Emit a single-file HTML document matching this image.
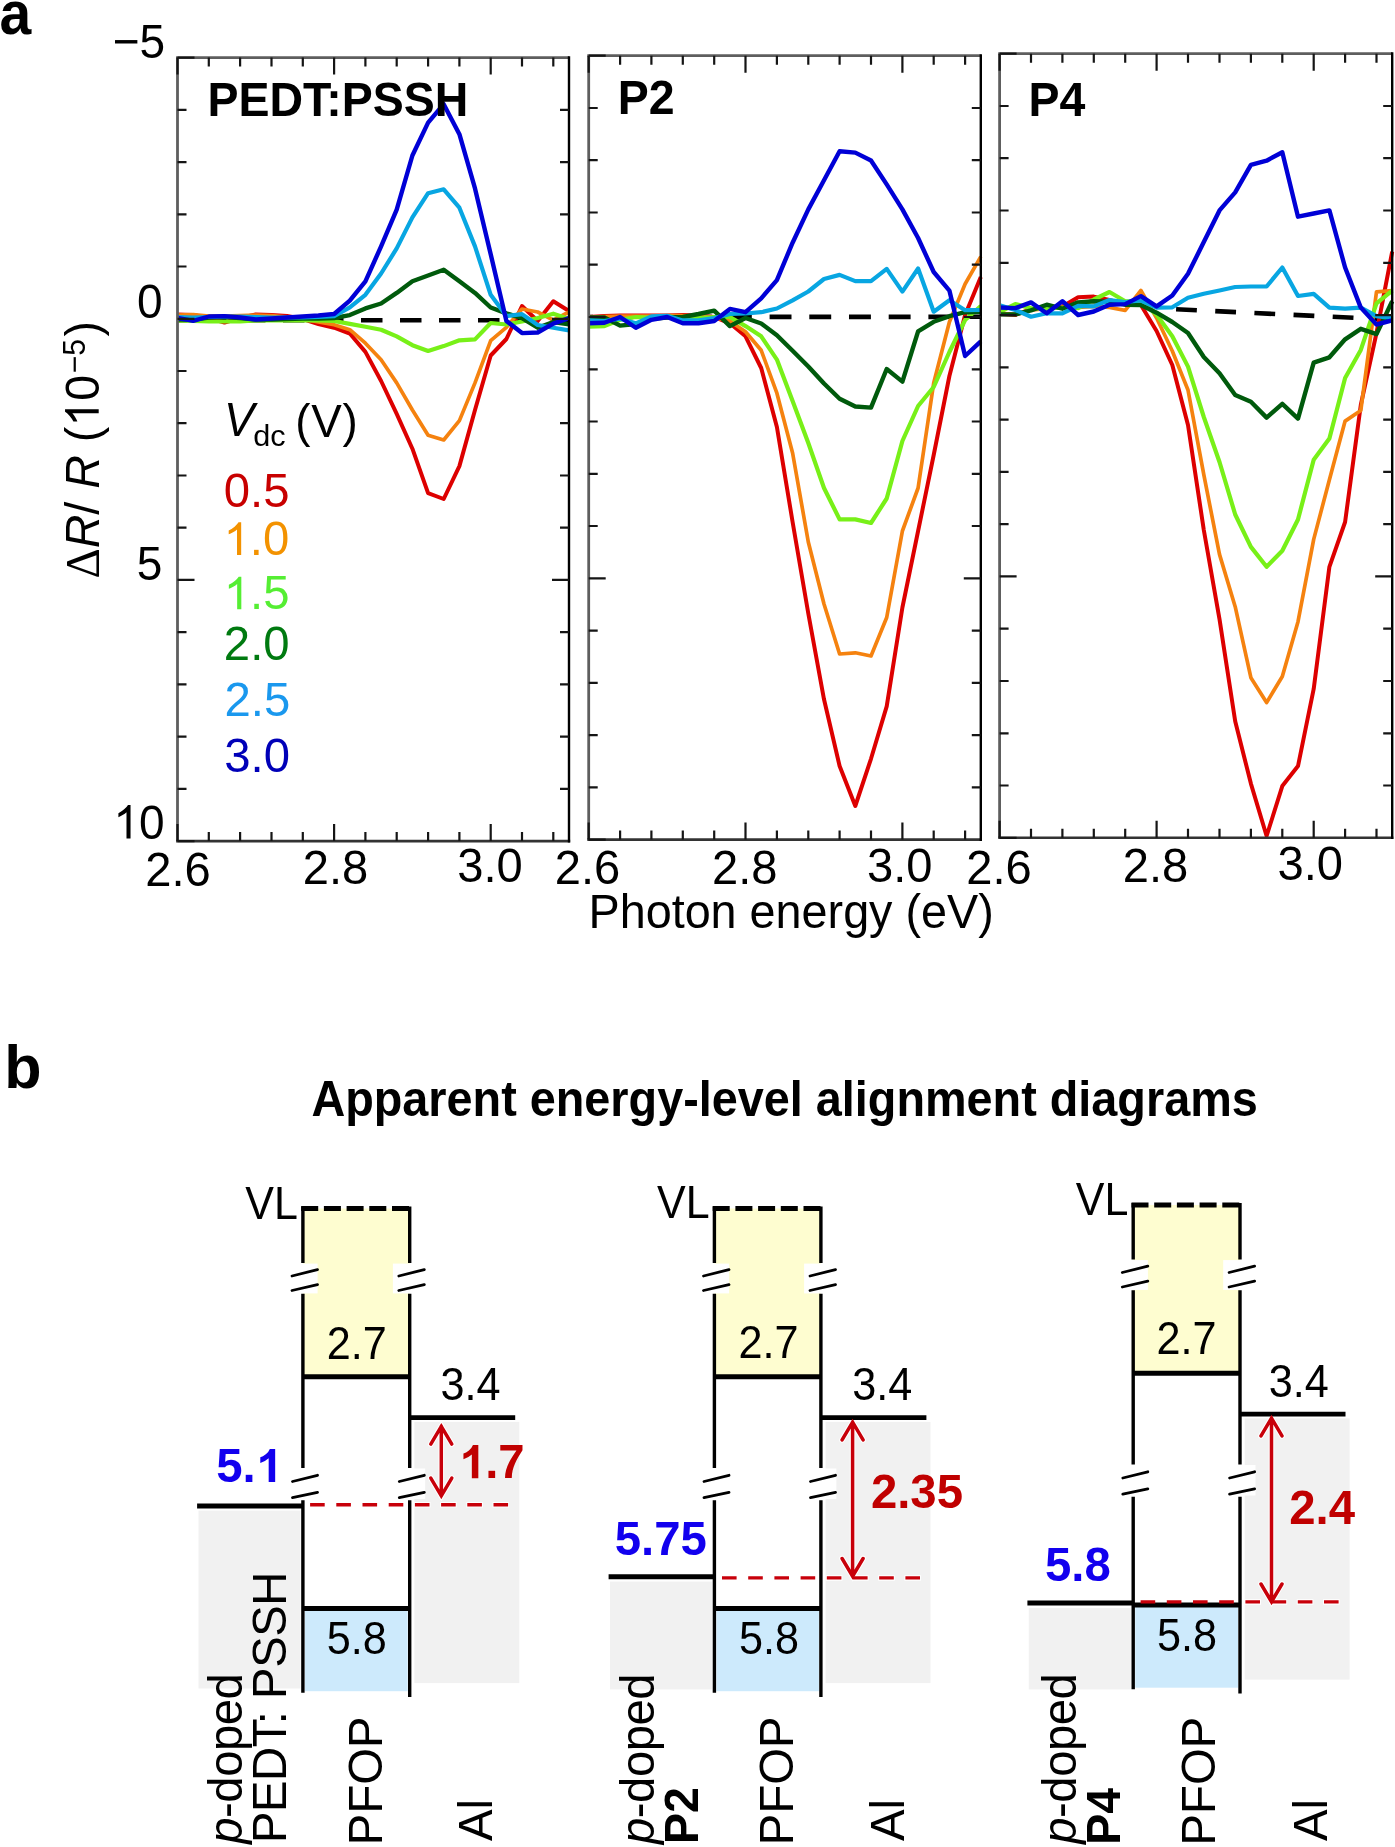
<!DOCTYPE html><html><head><meta charset="utf-8"><title>figure</title><style>html,body{margin:0;padding:0;background:#fff;}svg{display:block;will-change:transform;}text{font-family:"Liberation Sans", sans-serif;}</style></head><body>
<svg width="1395" height="1847" viewBox="0 0 1395 1847">
<rect width="1395" height="1847" fill="#fff"/>
<line x1="177.5" y1="320.2" x2="569.0" y2="320.2" stroke="#000" stroke-width="4.6" stroke-dasharray="21.5 17.5" stroke-dashoffset="11.50"/>
<polyline points="177.5,314.5 193.2,315.0 208.8,318.0 224.5,322.5 240.1,318.0 255.8,314.5 271.5,315.0 287.1,316.0 302.8,319.0 318.4,324.0 334.1,327.7 349.8,333.5 365.4,351.9 381.1,381.0 396.7,413.9 412.4,448.7 428.1,493.2 443.7,499.0 459.4,466.1 475.0,410.0 490.7,355.5 506.4,339.0 522.0,306.0 537.7,321.0 553.3,301.3 569.0,311.0" fill="none" stroke="#dd0000" stroke-width="4.0" stroke-linejoin="round" stroke-linecap="butt"/>
<polyline points="177.5,315.0 193.2,314.5 208.8,316.0 224.5,316.0 240.1,315.5 255.8,315.0 271.5,315.5 287.1,317.0 302.8,319.0 318.4,322.0 334.1,324.8 349.8,329.7 365.4,343.2 381.1,359.7 396.7,382.9 412.4,410.0 428.1,435.2 443.7,440.0 459.4,420.6 475.0,382.9 490.7,340.7 506.4,327.3 522.0,309.0 537.7,312.0 553.3,320.2 569.0,312.0" fill="none" stroke="#f5820f" stroke-width="3.7" stroke-linejoin="round" stroke-linecap="butt"/>
<polyline points="177.5,320.5 193.2,321.0 208.8,321.5 224.5,321.5 240.1,321.5 255.8,320.5 271.5,320.5 287.1,320.5 302.8,320.5 318.4,320.5 334.1,321.0 349.8,323.9 365.4,326.8 381.1,329.7 396.7,336.4 412.4,345.2 428.1,351.0 443.7,346.1 459.4,340.3 475.0,339.4 490.7,323.0 506.4,324.5 522.0,321.5 537.7,318.0 553.3,313.7 569.0,319.0" fill="none" stroke="#78f018" stroke-width="4.2" stroke-linejoin="round" stroke-linecap="butt"/>
<polyline points="177.5,319.5 193.2,319.5 208.8,317.5 224.5,317.0 240.1,318.0 255.8,319.5 271.5,319.5 287.1,319.0 302.8,318.5 318.4,318.5 334.1,318.0 349.8,315.1 365.4,308.4 381.1,303.5 396.7,292.9 412.4,281.3 428.1,275.5 443.7,269.7 459.4,281.3 475.0,292.9 490.7,307.5 506.4,313.4 522.0,318.1 537.7,327.7 553.3,322.0 569.0,324.3" fill="none" stroke="#005a0c" stroke-width="4.4" stroke-linejoin="round" stroke-linecap="butt"/>
<polyline points="177.5,317.0 193.2,317.5 208.8,317.0 224.5,316.5 240.1,316.5 255.8,317.0 271.5,317.5 287.1,317.5 302.8,317.5 318.4,317.0 334.1,316.1 349.8,307.4 365.4,294.8 381.1,273.5 396.7,248.4 412.4,217.4 428.1,193.2 443.7,189.3 459.4,207.7 475.0,246.4 490.7,294.8 506.4,316.1 522.0,314.1 537.7,325.0 553.3,327.7 569.0,330.4" fill="none" stroke="#08a6e2" stroke-width="4.2" stroke-linejoin="round" stroke-linecap="butt"/>
<polyline points="177.5,318.0 193.2,320.8 208.8,316.5 224.5,316.1 240.1,317.5 255.8,319.5 271.5,318.5 287.1,317.5 302.8,316.5 318.4,315.5 334.1,314.0 349.8,300.6 365.4,281.3 381.1,246.4 396.7,209.7 412.4,155.5 428.1,122.6 443.7,104.2 459.4,134.2 475.0,188.4 490.7,254.2 506.4,320.9 522.0,333.1 537.7,332.5 553.3,323.6 569.0,318.1" fill="none" stroke="#0000d6" stroke-width="4.4" stroke-linejoin="round" stroke-linecap="butt"/>
<path d="M176.1 57.6H569.0" stroke="#5e5e5e" stroke-width="2.8" fill="none"/>
<path d="M177.5 57.6V841.1" stroke="#5e5e5e" stroke-width="2.8" fill="none"/>
<path d="M176.1 841.1H570.2" stroke="#333" stroke-width="2.6" fill="none"/>
<path d="M569.0 56.2V842.4" stroke="#000" stroke-width="2.4" fill="none"/>
<path d="M208.8 57.6v9 M208.8 841.1v-9 M240.1 57.6v9 M240.1 841.1v-9 M271.5 57.6v9 M271.5 841.1v-9 M302.8 57.6v9 M302.8 841.1v-9 M334.1 57.6v17 M334.1 841.1v-17 M365.4 57.6v9 M365.4 841.1v-9 M396.7 57.6v9 M396.7 841.1v-9 M428.1 57.6v9 M428.1 841.1v-9 M459.4 57.6v9 M459.4 841.1v-9 M490.7 57.6v17 M490.7 841.1v-17 M522.0 57.6v9 M522.0 841.1v-9 M553.3 57.6v9 M553.3 841.1v-9 M177.5 57.6v17 M177.5 841.1v-17 M177.5 109.8h9 M569.0 109.8h-9 M177.5 162.1h9 M569.0 162.1h-9 M177.5 214.3h9 M569.0 214.3h-9 M177.5 266.5h9 M569.0 266.5h-9 M177.5 318.8h17 M569.0 318.8h-17 M177.5 371.0h9 M569.0 371.0h-9 M177.5 423.2h9 M569.0 423.2h-9 M177.5 475.5h9 M569.0 475.5h-9 M177.5 527.7h9 M569.0 527.7h-9 M177.5 579.9h17 M569.0 579.9h-17 M177.5 632.2h9 M569.0 632.2h-9 M177.5 684.4h9 M569.0 684.4h-9 M177.5 736.6h9 M569.0 736.6h-9 M177.5 788.9h9 M569.0 788.9h-9 M177.5 57.6h17 M177.5 841.1h17" stroke="#151515" stroke-width="2.2" fill="none"/>
<line x1="588.7" y1="317.0" x2="980.8" y2="316.8" stroke="#000" stroke-width="4.6" stroke-dasharray="21.9 17.8" stroke-dashoffset="17.60"/>
<polyline points="588.7,317.0 604.4,316.0 620.1,315.5 635.8,315.5 651.4,315.5 667.1,315.5 682.8,315.0 698.5,315.5 714.2,317.0 729.9,323.3 745.5,336.3 761.2,368.0 776.9,427.0 792.6,522.0 808.3,613.5 824.0,699.3 839.6,766.0 855.3,806.0 871.0,758.8 886.7,706.4 902.4,607.5 918.1,531.0 933.7,455.0 949.4,376.0 965.1,315.0 980.8,277.0" fill="none" stroke="#dd0000" stroke-width="4.0" stroke-linejoin="round" stroke-linecap="butt"/>
<polyline points="588.7,317.5 604.4,316.5 620.1,316.0 635.8,316.0 651.4,316.0 667.1,315.5 682.8,315.5 698.5,316.0 714.2,317.5 729.9,321.0 745.5,331.7 761.2,350.3 776.9,393.2 792.6,453.0 808.3,542.0 824.0,604.0 839.6,654.0 855.3,652.8 871.0,656.0 886.7,617.5 902.4,531.0 918.1,488.0 933.7,383.0 949.4,322.0 965.1,284.0 980.8,256.6" fill="none" stroke="#f5820f" stroke-width="3.7" stroke-linejoin="round" stroke-linecap="butt"/>
<polyline points="588.7,326.7 604.4,326.1 620.1,319.8 635.8,317.0 651.4,317.5 667.1,316.4 682.8,318.1 698.5,318.1 714.2,317.0 729.9,317.0 745.5,326.1 761.2,336.3 776.9,359.6 792.6,401.0 808.3,443.0 824.0,488.0 839.6,519.4 855.3,519.4 871.0,523.0 886.7,498.5 902.4,441.0 918.1,406.0 933.7,387.0 949.4,352.0 965.1,320.0 980.8,306.0" fill="none" stroke="#78f018" stroke-width="4.2" stroke-linejoin="round" stroke-linecap="butt"/>
<polyline points="588.7,317.5 604.4,317.5 620.1,325.6 635.8,324.0 651.4,318.7 667.1,317.5 682.8,317.0 698.5,314.0 714.2,310.6 729.9,326.1 745.5,318.0 761.2,323.5 776.9,335.3 792.6,350.8 808.3,366.5 824.0,383.5 839.6,398.8 855.3,406.5 871.0,407.6 886.7,369.0 902.4,381.6 918.1,331.3 933.7,321.8 949.4,316.2 965.1,312.2 980.8,311.7" fill="none" stroke="#005a0c" stroke-width="4.4" stroke-linejoin="round" stroke-linecap="butt"/>
<polyline points="588.7,320.4 604.4,321.0 620.1,318.7 635.8,323.3 651.4,316.4 667.1,315.8 682.8,320.4 698.5,320.4 714.2,318.1 729.9,314.0 745.5,313.5 761.2,312.2 776.9,308.5 792.6,300.4 808.3,291.5 824.0,279.0 839.6,274.9 855.3,281.1 871.0,281.1 886.7,268.9 902.4,291.6 918.1,268.5 933.7,311.7 949.4,300.2 965.1,310.2 980.8,310.0" fill="none" stroke="#08a6e2" stroke-width="4.2" stroke-linejoin="round" stroke-linecap="butt"/>
<polyline points="588.7,323.3 604.4,322.7 620.1,317.0 635.8,327.8 651.4,319.8 667.1,317.0 682.8,323.3 698.5,323.3 714.2,321.0 729.9,308.9 745.5,312.2 761.2,298.4 776.9,280.1 792.6,242.7 808.3,209.4 824.0,180.3 839.6,151.2 855.3,152.6 871.0,160.5 886.7,184.4 902.4,209.4 918.1,238.0 933.7,272.0 949.4,290.6 965.1,356.0 980.8,341.4" fill="none" stroke="#0000d6" stroke-width="4.4" stroke-linejoin="round" stroke-linecap="butt"/>
<path d="M587.3 55.7H980.8" stroke="#5e5e5e" stroke-width="2.8" fill="none"/>
<path d="M588.7 55.7V839.6" stroke="#5e5e5e" stroke-width="2.8" fill="none"/>
<path d="M587.3 839.6H982.0" stroke="#333" stroke-width="2.6" fill="none"/>
<path d="M980.8 54.3V840.9" stroke="#000" stroke-width="2.4" fill="none"/>
<path d="M620.1 55.7v9 M620.1 839.6v-9 M651.4 55.7v9 M651.4 839.6v-9 M682.8 55.7v9 M682.8 839.6v-9 M714.2 55.7v9 M714.2 839.6v-9 M745.5 55.7v17 M745.5 839.6v-17 M776.9 55.7v9 M776.9 839.6v-9 M808.3 55.7v9 M808.3 839.6v-9 M839.6 55.7v9 M839.6 839.6v-9 M871.0 55.7v9 M871.0 839.6v-9 M902.4 55.7v17 M902.4 839.6v-17 M933.7 55.7v9 M933.7 839.6v-9 M965.1 55.7v9 M965.1 839.6v-9 M588.7 55.7v17 M588.7 839.6v-17 M588.7 108.0h9 M980.8 108.0h-9 M588.7 160.2h9 M980.8 160.2h-9 M588.7 212.5h9 M980.8 212.5h-9 M588.7 264.7h9 M980.8 264.7h-9 M588.7 317.0h17 M980.8 317.0h-17 M588.7 369.3h9 M980.8 369.3h-9 M588.7 421.5h9 M980.8 421.5h-9 M588.7 473.8h9 M980.8 473.8h-9 M588.7 526.0h9 M980.8 526.0h-9 M588.7 578.3h17 M980.8 578.3h-17 M588.7 630.6h9 M980.8 630.6h-9 M588.7 682.8h9 M980.8 682.8h-9 M588.7 735.1h9 M980.8 735.1h-9 M588.7 787.3h9 M980.8 787.3h-9 M588.7 55.7h17 M588.7 839.6h17" stroke="#151515" stroke-width="2.2" fill="none"/>
<line x1="1160.0" y1="308.4" x2="1392.2" y2="319.7" stroke="#000" stroke-width="4.6" stroke-dasharray="20.8 18.4" stroke-dashoffset="23.10"/>
<polyline points="999.6,313.8 1015.3,315.0 1031.0,309.2 1046.7,308.7 1062.4,306.4 1078.1,297.2 1093.8,296.6 1109.5,300.0 1125.2,304.7 1140.9,305.0 1156.6,331.0 1172.3,365.0 1188.0,425.0 1203.8,530.0 1219.5,619.2 1235.2,721.3 1250.9,783.6 1266.6,836.0 1282.3,786.1 1298.0,766.1 1313.7,688.9 1329.4,566.8 1345.1,522.0 1360.8,404.9 1376.5,333.0 1392.2,251.6" fill="none" stroke="#dd0000" stroke-width="4.0" stroke-linejoin="round" stroke-linecap="butt"/>
<polyline points="999.6,313.3 1015.3,314.4 1031.0,309.8 1046.7,308.7 1062.4,307.5 1078.1,307.5 1093.8,306.4 1109.5,307.5 1125.2,310.4 1140.9,290.5 1156.6,318.0 1172.3,351.0 1188.0,390.0 1203.8,474.7 1219.5,554.4 1235.2,606.7 1250.9,677.7 1266.6,702.6 1282.3,676.5 1298.0,621.7 1313.7,539.4 1329.4,479.7 1345.1,421.1 1360.8,410.5 1376.5,291.8 1392.2,290.7" fill="none" stroke="#f5820f" stroke-width="3.7" stroke-linejoin="round" stroke-linecap="butt"/>
<polyline points="999.6,312.0 1015.3,304.1 1031.0,308.1 1046.7,308.7 1062.4,307.5 1078.1,308.1 1093.8,299.5 1109.5,292.0 1125.2,301.2 1140.9,301.3 1156.6,314.7 1172.3,336.3 1188.0,366.6 1203.8,417.0 1219.5,462.0 1235.2,514.5 1250.9,546.9 1266.6,566.8 1282.3,550.7 1298.0,519.5 1313.7,459.7 1329.4,438.5 1345.1,378.0 1360.8,349.9 1376.5,303.4 1392.2,290.7" fill="none" stroke="#78f018" stroke-width="4.2" stroke-linejoin="round" stroke-linecap="butt"/>
<polyline points="999.6,314.4 1015.3,314.4 1031.0,310.4 1046.7,304.7 1062.4,308.7 1078.1,302.4 1093.8,301.2 1109.5,301.8 1125.2,304.7 1140.9,305.0 1156.6,312.7 1172.3,322.0 1188.0,333.0 1203.8,357.0 1219.5,373.2 1235.2,395.0 1250.9,401.7 1266.6,417.6 1282.3,403.8 1298.0,418.6 1313.7,362.6 1329.4,357.3 1345.1,339.3 1360.8,328.8 1376.5,334.1 1392.2,301.3" fill="none" stroke="#005a0c" stroke-width="4.4" stroke-linejoin="round" stroke-linecap="butt"/>
<polyline points="999.6,305.2 1015.3,310.0 1031.0,316.7 1046.7,313.3 1062.4,313.3 1078.1,305.8 1093.8,306.4 1109.5,300.0 1125.2,302.0 1140.9,300.5 1156.6,307.6 1172.3,307.3 1188.0,297.7 1203.8,293.7 1219.5,290.5 1235.2,287.0 1250.9,286.5 1266.6,286.5 1282.3,267.5 1298.0,296.0 1313.7,293.9 1329.4,307.6 1345.1,308.7 1360.8,307.6 1376.5,316.1 1392.2,318.2" fill="none" stroke="#08a6e2" stroke-width="4.2" stroke-linejoin="round" stroke-linecap="butt"/>
<polyline points="999.6,307.5 1015.3,308.1 1031.0,302.4 1046.7,313.3 1062.4,301.2 1078.1,315.0 1093.8,311.5 1109.5,304.7 1125.2,304.1 1140.9,296.1 1156.6,306.4 1172.3,295.5 1188.0,273.8 1203.8,242.1 1219.5,210.4 1235.2,192.4 1250.9,164.9 1266.6,160.7 1282.3,152.2 1298.0,216.7 1313.7,213.5 1329.4,210.4 1345.1,267.5 1360.8,307.6 1376.5,324.5 1392.2,320.3" fill="none" stroke="#0000d6" stroke-width="4.4" stroke-linejoin="round" stroke-linecap="butt"/>
<path d="M998.2 53.7H1392.2" stroke="#5e5e5e" stroke-width="2.8" fill="none"/>
<path d="M999.6 53.7V837.8" stroke="#5e5e5e" stroke-width="2.8" fill="none"/>
<path d="M998.2 837.8H1393.4" stroke="#333" stroke-width="2.6" fill="none"/>
<path d="M1392.2 52.3V839.1" stroke="#000" stroke-width="2.4" fill="none"/>
<path d="M1031.0 53.7v9 M1031.0 837.8v-9 M1062.4 53.7v9 M1062.4 837.8v-9 M1093.8 53.7v9 M1093.8 837.8v-9 M1125.2 53.7v9 M1125.2 837.8v-9 M1156.6 53.7v17 M1156.6 837.8v-17 M1188.0 53.7v9 M1188.0 837.8v-9 M1219.5 53.7v9 M1219.5 837.8v-9 M1250.9 53.7v9 M1250.9 837.8v-9 M1282.3 53.7v9 M1282.3 837.8v-9 M1313.7 53.7v17 M1313.7 837.8v-17 M1345.1 53.7v9 M1345.1 837.8v-9 M1376.5 53.7v9 M1376.5 837.8v-9 M999.6 53.7v17 M999.6 837.8v-17 M999.6 106.0h9 M1392.2 106.0h-9 M999.6 158.2h9 M1392.2 158.2h-9 M999.6 210.5h9 M1392.2 210.5h-9 M999.6 262.8h9 M1392.2 262.8h-9 M999.6 315.1h17 M1392.2 315.1h-17 M999.6 367.3h9 M1392.2 367.3h-9 M999.6 419.6h9 M1392.2 419.6h-9 M999.6 471.9h9 M1392.2 471.9h-9 M999.6 524.2h9 M1392.2 524.2h-9 M999.6 576.4h17 M1392.2 576.4h-17 M999.6 628.7h9 M1392.2 628.7h-9 M999.6 681.0h9 M1392.2 681.0h-9 M999.6 733.3h9 M1392.2 733.3h-9 M999.6 785.5h9 M1392.2 785.5h-9 M999.6 53.7h17 M999.6 837.8h17" stroke="#151515" stroke-width="2.2" fill="none"/>
<text transform="translate(112.70,58.00) scale(1,1.06)" font-size="46.0" font-weight="normal" fill="#000">−5</text>
<text transform="translate(137.10,317.70) scale(1,1.06)" font-size="46.0" font-weight="normal" fill="#000">0</text>
<text transform="translate(136.80,579.80) scale(1,1.06)" font-size="46.0" font-weight="normal" fill="#000">5</text>
<text transform="translate(113.40,838.50) scale(1,1.06)" font-size="46.0" font-weight="normal" fill="#000"> 0</text><path transform="translate(113.40,838.50) scale(1,1.06) translate(0.000,0) scale(0.02246,-0.02246)" d="M 763 0 L 583 0 L 583 1102.4 Q 518 1042.8 410 982.3 Q 302 921.7 223 893.8 L 223 1060.1 Q 355 1119.7 478 1223.5 Q 601 1327.3 650 1409 L 763 1409Z" fill="#000"/>
<text transform="translate(145.35,885.60) scale(1,1.02)" font-size="47.1" font-weight="normal" fill="#000">2.6</text>
<text transform="translate(302.80,883.75) scale(1,1.02)" font-size="47.1" font-weight="normal" fill="#000">2.8</text>
<text transform="translate(457.30,881.95) scale(1,1.02)" font-size="47.1" font-weight="normal" fill="#000">3.0</text>
<text transform="translate(554.75,883.70) scale(1,1.02)" font-size="47.1" font-weight="normal" fill="#000">2.6</text>
<text transform="translate(711.95,883.75) scale(1,1.02)" font-size="47.1" font-weight="normal" fill="#000">2.8</text>
<text transform="translate(867.05,881.80) scale(1,1.02)" font-size="47.1" font-weight="normal" fill="#000">3.0</text>
<text transform="translate(966.35,883.70) scale(1,1.02)" font-size="47.1" font-weight="normal" fill="#000">2.6</text>
<text transform="translate(1122.80,881.95) scale(1,1.02)" font-size="47.1" font-weight="normal" fill="#000">2.8</text>
<text transform="translate(1277.45,879.80) scale(1,1.02)" font-size="47.1" font-weight="normal" fill="#000">3.0</text>
<text transform="translate(588.50,928.20) scale(1,1.03)" font-size="46.75" font-weight="normal" fill="#000">Photon energy (eV)</text>
<text transform="translate(207.50,115.60) scale(1,1.045)" font-size="46.5" font-weight="bold" fill="#000">PEDT:PSSH</text>
<text transform="translate(617.85,113.90) scale(1,1.045)" font-size="46.5" font-weight="bold" fill="#000">P2</text>
<text transform="translate(1028.55,115.65) scale(1,1.045)" font-size="46.5" font-weight="bold" fill="#000">P4</text>
<text transform="translate(223.75,506.50) scale(1,1.0)" font-size="47.3" font-weight="normal" fill="#c80000">0.5</text>
<text transform="translate(223.55,554.90) scale(1,1.0)" font-size="47.3" font-weight="normal" fill="#f39200"> .0</text><path transform="translate(223.55,554.90) scale(1,1.0) translate(0.000,0) scale(0.02310,-0.02310)" d="M 763 0 L 583 0 L 583 1102.4 Q 518 1042.8 410 982.3 Q 302 921.7 223 893.8 L 223 1060.1 Q 355 1119.7 478 1223.5 Q 601 1327.3 650 1409 L 763 1409Z" fill="#f39200"/>
<text transform="translate(223.70,609.35) scale(1,1.0)" font-size="47.3" font-weight="normal" fill="#55ee33"> .5</text><path transform="translate(223.70,609.35) scale(1,1.0) translate(0.000,0) scale(0.02310,-0.02310)" d="M 763 0 L 583 0 L 583 1102.4 Q 518 1042.8 410 982.3 Q 302 921.7 223 893.8 L 223 1060.1 Q 355 1119.7 478 1223.5 Q 601 1327.3 650 1409 L 763 1409Z" fill="#55ee33"/>
<text transform="translate(223.85,659.75) scale(1,1.0)" font-size="47.3" font-weight="normal" fill="#007a10">2.0</text>
<text transform="translate(224.50,715.65) scale(1,1.0)" font-size="47.3" font-weight="normal" fill="#1a98ee">2.5</text>
<text transform="translate(224.20,771.55) scale(1,1.0)" font-size="47.3" font-weight="normal" fill="#0000b8">3.0</text>
<text transform="translate(98.7,578.5) rotate(-90) scale(1,1.05)" font-size="46.6"><tspan font-family="Liberation Serif" font-size="47">Δ</tspan><tspan font-style="italic">R</tspan><tspan>/ </tspan><tspan font-style="italic">R</tspan><tspan> ( 0</tspan><tspan font-size="30" dx="1.5" dy="-13.5">−5</tspan><tspan dx="2.5" dy="13.5">)</tspan></text>
<path transform="translate(98.7,578.5) rotate(-90) scale(1,1.05) translate(151.89,0) scale(0.02275,-0.02275)" d="M 763 0 L 583 0 L 583 1102.4 Q 518 1042.8 410 982.3 Q 302 921.7 223 893.8 L 223 1060.1 Q 355 1119.7 478 1223.5 Q 601 1327.3 650 1409 L 763 1409Z"/>
<text transform="translate(224.0,436.4) scale(1,1.05)" font-size="45.5" font-style="italic">V</text>
<text transform="translate(253.3,445.6) scale(1.03,0.96)" font-size="29.8">dc</text>
<text transform="translate(295.2,436.7) scale(1,1.0)" font-size="45.8" letter-spacing="0.8">(V)</text>
<text transform="translate(-0.60,33.70) scale(1,1.07)" font-size="57.0" font-weight="bold" fill="#000">a</text>
<text transform="translate(4.15,1087.55) scale(1,1.0)" font-size="61.0" font-weight="bold" fill="#000">b</text>
<text transform="translate(311.40,1115.90) scale(1,1.05)" font-size="46.8" font-weight="bold" fill="#000">Apparent energy-level alignment diagrams</text>
<rect x="198.5" y="1510.6" width="101.9" height="177.9" fill="#f1f1f1"/>
<rect x="414.4" y="1421.9" width="104.9" height="261.2" fill="#f1f1f1"/>
<rect x="302.9" y="1208.5" width="106.8" height="168.3" fill="#fefdd0"/>
<rect x="304.9" y="1608.5" width="102.8" height="82.7" fill="#cdeafc"/>
<rect x="291.9" y="1263.6" width="25.7" height="29.8" fill="#fff"/>
<rect x="392.9" y="1263.6" width="31.2" height="29.8" fill="#fff"/>
<rect x="399.2" y="1468.5" width="26.0" height="30.5" fill="#fff"/>
<path d="M310.1 1504.8H509.7" stroke="#fff" stroke-width="5.5" stroke-dasharray="16.6 9.6" stroke-dashoffset="1" fill="none"/>
<path d="M441.3 1426.1V1496.1 M430.8 1444.1L441.3 1426.4L451.8 1444.1 M430.8 1478.1L441.3 1495.8L451.8 1478.1" stroke="#fff" stroke-width="5.6" fill="none" stroke-linejoin="miter" stroke-linecap="round"/>
<path d="M302.9 1206.5V1263.1 M302.9 1293.8V1468.0 M302.9 1500.2V1692.8 M409.7 1206.5V1263.1 M409.7 1293.8V1468.0 M409.7 1500.2V1697.1" stroke="#000" stroke-width="3.4" fill="none"/>
<path d="M292.0 1276.0L317.5 1269.6 M292.0 1290.5L317.5 1284.6 M292.5 1481.5L317.5 1475.3 M292.5 1497.7L317.5 1492.3 M398.8 1276.0L424.3 1269.6 M398.8 1290.5L424.3 1284.6 M399.3 1481.5L424.3 1475.3 M399.3 1497.7L424.3 1492.3" stroke="#000" stroke-width="2.8" fill="none" stroke-linecap="round"/>
<path d="M301.2 1208.5H411.4" stroke="#000" stroke-width="5" stroke-dasharray="17 5.7" fill="none"/>
<path d="M302.9 1376.8H409.7" stroke="#000" stroke-width="5" fill="none"/>
<path d="M409.7 1417.7H515.2" stroke="#000" stroke-width="4.8" fill="none"/>
<path d="M302.9 1608.5H409.7" stroke="#000" stroke-width="5" fill="none"/>
<path d="M197.1 1506.0H302.9" stroke="#000" stroke-width="5" fill="none"/>
<path d="M310.1 1504.8H509.7" stroke="#c8000a" stroke-width="3.4" stroke-dasharray="14.6 11.6" fill="none"/>
<path d="M441.3 1426.1V1496.1 M430.8 1444.1L441.3 1426.4L451.8 1444.1 M430.8 1478.1L441.3 1495.8L451.8 1478.1" stroke="#c8000a" stroke-width="3.5" fill="none" stroke-linejoin="miter" stroke-linecap="round"/>
<rect x="610.0" y="1581.6" width="101.9" height="107.8" fill="#f1f1f1"/>
<rect x="825.6" y="1421.9" width="104.9" height="261.2" fill="#f1f1f1"/>
<rect x="714.4" y="1208.5" width="106.5" height="168.3" fill="#fefdd0"/>
<rect x="716.4" y="1608.5" width="102.5" height="82.7" fill="#cdeafc"/>
<rect x="703.4" y="1263.6" width="25.7" height="29.8" fill="#fff"/>
<rect x="804.1" y="1263.6" width="31.2" height="29.8" fill="#fff"/>
<rect x="810.4" y="1468.5" width="26.0" height="30.5" fill="#fff"/>
<path d="M722.0 1577.9H920.9" stroke="#fff" stroke-width="5.5" stroke-dasharray="16.6 9.6" stroke-dashoffset="1" fill="none"/>
<path d="M852.6 1421.9V1576.5 M842.1 1439.9L852.6 1422.2L863.1 1439.9 M842.1 1558.5L852.6 1576.2L863.1 1558.5" stroke="#fff" stroke-width="5.6" fill="none" stroke-linejoin="miter" stroke-linecap="round"/>
<path d="M714.4 1206.5V1263.1 M714.4 1293.8V1468.0 M714.4 1500.2V1692.8 M820.9 1206.5V1263.1 M820.9 1293.8V1468.0 M820.9 1500.2V1697.1" stroke="#000" stroke-width="3.4" fill="none"/>
<path d="M703.5 1276.0L729.0 1269.6 M703.5 1290.5L729.0 1284.6 M704.0 1481.5L729.0 1475.3 M704.0 1497.7L729.0 1492.3 M810.0 1276.0L835.5 1269.6 M810.0 1290.5L835.5 1284.6 M810.5 1481.5L835.5 1475.3 M810.5 1497.7L835.5 1492.3" stroke="#000" stroke-width="2.8" fill="none" stroke-linecap="round"/>
<path d="M712.7 1208.5H822.6" stroke="#000" stroke-width="5" stroke-dasharray="17 5.7" fill="none"/>
<path d="M714.4 1376.8H820.9" stroke="#000" stroke-width="5" fill="none"/>
<path d="M820.9 1417.7H926.4" stroke="#000" stroke-width="4.8" fill="none"/>
<path d="M714.4 1608.5H820.9" stroke="#000" stroke-width="5" fill="none"/>
<path d="M608.6 1576.8H714.4" stroke="#000" stroke-width="5" fill="none"/>
<path d="M722.0 1577.9H920.9" stroke="#c8000a" stroke-width="3.4" stroke-dasharray="14.6 11.6" fill="none"/>
<path d="M852.6 1421.9V1576.5 M842.1 1439.9L852.6 1422.2L863.1 1439.9 M842.1 1558.5L852.6 1576.2L863.1 1558.5" stroke="#c8000a" stroke-width="3.5" fill="none" stroke-linejoin="miter" stroke-linecap="round"/>
<rect x="1028.8" y="1608.1" width="101.9" height="81.3" fill="#f1f1f1"/>
<rect x="1244.7" y="1418.4" width="104.9" height="261.2" fill="#f1f1f1"/>
<rect x="1133.2" y="1205.0" width="106.8" height="168.3" fill="#fefdd0"/>
<rect x="1135.2" y="1605.0" width="102.8" height="82.7" fill="#cdeafc"/>
<rect x="1122.2" y="1260.1" width="25.7" height="29.8" fill="#fff"/>
<rect x="1223.2" y="1260.1" width="31.2" height="29.8" fill="#fff"/>
<rect x="1229.5" y="1465.0" width="26.0" height="30.5" fill="#fff"/>
<path d="M1140.6 1601.9H1340.0" stroke="#fff" stroke-width="5.5" stroke-dasharray="16.6 9.6" stroke-dashoffset="1" fill="none"/>
<path d="M1271.5 1417.9V1602.0 M1261.0 1435.9L1271.5 1418.2L1282.0 1435.9 M1261.0 1584.0L1271.5 1601.7L1282.0 1584.0" stroke="#fff" stroke-width="5.6" fill="none" stroke-linejoin="miter" stroke-linecap="round"/>
<path d="M1133.2 1203.0V1259.6 M1133.2 1290.3V1464.5 M1133.2 1496.7V1689.3 M1240.0 1203.0V1259.6 M1240.0 1290.3V1464.5 M1240.0 1496.7V1693.6" stroke="#000" stroke-width="3.4" fill="none"/>
<path d="M1122.3 1272.5L1147.8 1266.1 M1122.3 1287.0L1147.8 1281.1 M1122.8 1478.0L1147.8 1471.8 M1122.8 1494.2L1147.8 1488.8 M1229.1 1272.5L1254.6 1266.1 M1229.1 1287.0L1254.6 1281.1 M1229.6 1478.0L1254.6 1471.8 M1229.6 1494.2L1254.6 1488.8" stroke="#000" stroke-width="2.8" fill="none" stroke-linecap="round"/>
<path d="M1131.5 1205.0H1241.7" stroke="#000" stroke-width="5" stroke-dasharray="17 5.7" fill="none"/>
<path d="M1133.2 1373.3H1240.0" stroke="#000" stroke-width="5" fill="none"/>
<path d="M1240.0 1414.2H1345.5" stroke="#000" stroke-width="4.8" fill="none"/>
<path d="M1133.2 1605.0H1240.0" stroke="#000" stroke-width="5" fill="none"/>
<path d="M1027.4 1603.1H1133.2" stroke="#000" stroke-width="5" fill="none"/>
<path d="M1140.6 1601.9H1340.0" stroke="#c8000a" stroke-width="3.4" stroke-dasharray="14.6 11.6" fill="none"/>
<path d="M1271.5 1417.9V1602.0 M1261.0 1435.9L1271.5 1418.2L1282.0 1435.9 M1261.0 1584.0L1271.5 1601.7L1282.0 1584.0" stroke="#c8000a" stroke-width="3.5" fill="none" stroke-linejoin="miter" stroke-linecap="round"/>
<text transform="translate(245.25,1218.70) scale(1,1.08)" font-size="43.0" font-weight="normal" fill="#000">VL</text>
<text transform="translate(657.00,1218.25) scale(1,1.08)" font-size="43.0" font-weight="normal" fill="#000">VL</text>
<text transform="translate(1075.75,1215.00) scale(1,1.08)" font-size="43.0" font-weight="normal" fill="#000">VL</text>
<text transform="translate(326.70,1359.10) scale(1,1.09)" font-size="43.2" font-weight="normal" fill="#000">2.7</text>
<text transform="translate(738.40,1358.10) scale(1,1.09)" font-size="43.2" font-weight="normal" fill="#000">2.7</text>
<text transform="translate(1156.50,1354.40) scale(1,1.09)" font-size="43.2" font-weight="normal" fill="#000">2.7</text>
<text transform="translate(440.45,1400.05) scale(1,1.09)" font-size="43.2" font-weight="normal" fill="#000">3.4</text>
<text transform="translate(852.20,1400.25) scale(1,1.09)" font-size="43.2" font-weight="normal" fill="#000">3.4</text>
<text transform="translate(1268.75,1396.55) scale(1,1.09)" font-size="43.2" font-weight="normal" fill="#000">3.4</text>
<text transform="translate(326.85,1654.40) scale(1,1.09)" font-size="43.2" font-weight="normal" fill="#000">5.8</text>
<text transform="translate(739.00,1654.40) scale(1,1.09)" font-size="43.2" font-weight="normal" fill="#000">5.8</text>
<text transform="translate(1157.10,1650.60) scale(1,1.09)" font-size="43.2" font-weight="normal" fill="#000">5.8</text>
<text transform="translate(458.85,1478.25) scale(1,1.02)" font-size="47.3" font-weight="bold" fill="#c00000"> .7</text><path transform="translate(458.85,1478.25) scale(1,1.02) translate(0.000,0) scale(0.02310,-0.02310)" d="M 843 0 L 562 0 L 562 1012.1 Q 408 873.7 199 807.3 L 199 1051.5 Q 309 1086.1 436 1181.2 Q 563 1276.4 611 1409 L 843 1409Z" fill="#c00000"/>
<text transform="translate(870.90,1508.00) scale(1,1.02)" font-size="47.3" font-weight="bold" fill="#c00000">2.35</text>
<text transform="translate(1289.25,1524.25) scale(1,1.02)" font-size="47.3" font-weight="bold" fill="#c00000">2.4</text>
<text transform="translate(216.25,1482.10) scale(1,1.02)" font-size="47.3" font-weight="bold" fill="#1200ee">5. </text><path transform="translate(216.25,1482.10) scale(1,1.02) translate(39.447,0) scale(0.02310,-0.02310)" d="M 843 0 L 562 0 L 562 1012.1 Q 408 873.7 199 807.3 L 199 1051.5 Q 309 1086.1 436 1181.2 Q 563 1276.4 611 1409 L 843 1409Z" fill="#1200ee"/>
<text transform="translate(614.80,1555.20) scale(1,1.02)" font-size="47.3" font-weight="bold" fill="#1200ee">5.75</text>
<text transform="translate(1045.05,1581.00) scale(1,1.02)" font-size="47.3" font-weight="bold" fill="#1200ee">5.8</text>
<text transform="translate(242.00,1843.70) rotate(-90) scale(1,1.0)" font-size="47.3" font-weight="normal" fill="#000" letter-spacing="-0.5"><tspan font-style="italic">p</tspan>-doped</text>
<text transform="translate(286.00,1843.10) rotate(-90) scale(1,1.0)" font-size="47.3" font-weight="normal" fill="#000" letter-spacing="-0.5">PEDT: PSSH</text>
<text transform="translate(381.55,1845.15) rotate(-90) scale(1,1.0)" font-size="47.3" font-weight="normal" fill="#000">PFOP</text>
<text transform="translate(492.15,1841.05) rotate(-90) scale(1,1.0)" font-size="47.3" font-weight="normal" fill="#000">Al</text>
<text transform="translate(653.60,1843.95) rotate(-90) scale(1,1.0)" font-size="47.3" font-weight="normal" fill="#000" letter-spacing="-0.5"><tspan font-style="italic">p</tspan>-doped</text>
<text transform="translate(697.90,1844.10) rotate(-90) scale(1,1.045)" font-size="46.5" font-weight="bold" fill="#000">P2</text>
<text transform="translate(793.25,1845.15) rotate(-90) scale(1,1.0)" font-size="47.3" font-weight="normal" fill="#000">PFOP</text>
<text transform="translate(903.55,1841.05) rotate(-90) scale(1,1.0)" font-size="47.3" font-weight="normal" fill="#000">Al</text>
<text transform="translate(1075.50,1843.70) rotate(-90) scale(1,1.0)" font-size="47.3" font-weight="normal" fill="#000" letter-spacing="-0.5"><tspan font-style="italic">p</tspan>-doped</text>
<text transform="translate(1119.95,1844.80) rotate(-90) scale(1,1.045)" font-size="46.5" font-weight="bold" fill="#000">P4</text>
<text transform="translate(1215.35,1845.45) rotate(-90) scale(1,1.0)" font-size="47.3" font-weight="normal" fill="#000">PFOP</text>
<text transform="translate(1326.85,1841.05) rotate(-90) scale(1,1.0)" font-size="47.3" font-weight="normal" fill="#000">Al</text>
</svg></body></html>
